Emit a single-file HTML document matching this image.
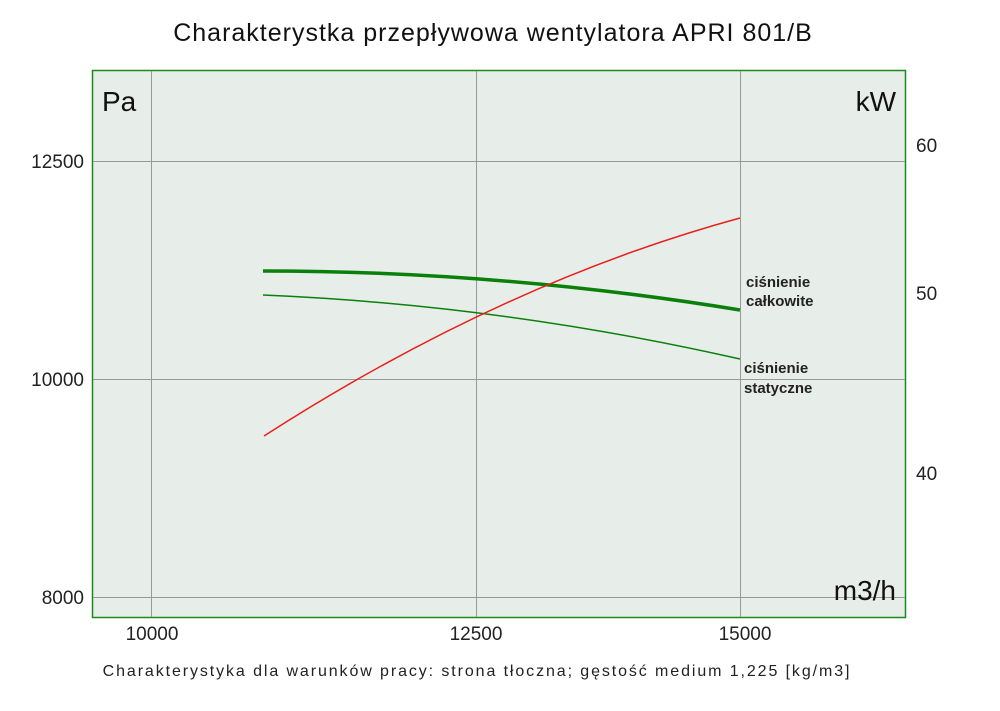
<!DOCTYPE html>
<html><head><style>body{margin:0;background:#fff}</style></head><body>
<svg width="1000" height="706" xmlns="http://www.w3.org/2000/svg" font-family="Liberation Sans, DejaVu Sans, sans-serif">
<text x="493" y="41" font-size="25" text-anchor="middle" fill="#111" letter-spacing="1">Charakterystka przepływowa wentylatora APRI 801/B</text>
<rect x="92.5" y="70.5" width="813" height="547" fill="#e7ede9" stroke="#1a8a1a" stroke-width="1.5"/>
<g stroke="#999" stroke-width="1">
<line x1="151.5" y1="71" x2="151.5" y2="617"/><line x1="476.5" y1="71" x2="476.5" y2="617"/><line x1="740.5" y1="71" x2="740.5" y2="617"/>
<line x1="93" y1="161.5" x2="905" y2="161.5"/><line x1="93" y1="379.5" x2="905" y2="379.5"/><line x1="93" y1="597.5" x2="905" y2="597.5"/>
</g>
<text x="102" y="111" font-size="28" fill="#111">Pa</text>
<text x="896" y="111" font-size="28" fill="#111" text-anchor="end">kW</text>
<text x="896" y="600" font-size="28" fill="#111" text-anchor="end">m3/h</text>
<g font-size="19" fill="#222">
<text x="84" y="168" text-anchor="end">12500</text>
<text x="84" y="386" text-anchor="end">10000</text>
<text x="84" y="604" text-anchor="end">8000</text>
<text x="916" y="152">60</text><text x="916" y="300">50</text><text x="916" y="480">40</text>
<text x="152" y="640" text-anchor="middle">10000</text>
<text x="476" y="640" text-anchor="middle">12500</text>
<text x="745" y="640" text-anchor="middle">15000</text>
</g>
<path d="M263,271 Q502,271 740,310" fill="none" stroke="#0a800a" stroke-width="3.5"/>
<path d="M263,295 Q502,305 740,359" fill="none" stroke="#0a800a" stroke-width="1.5"/>
<path d="M264,436 Q502,283 740,218" fill="none" stroke="#e8201a" stroke-width="1.5"/>
<g font-size="15" font-weight="bold" fill="#222">
<text x="746" y="287">ciśnienie</text><text x="746" y="306">całkowite</text>
<text x="744" y="373">ciśnienie</text><text x="744" y="393">statyczne</text>
</g>
<text x="477" y="676" font-size="16" text-anchor="middle" fill="#222" letter-spacing="1.9">Charakterystyka dla warunków pracy: strona tłoczna; gęstość medium 1,225 [kg/m3]</text>
</svg>
</body></html>
